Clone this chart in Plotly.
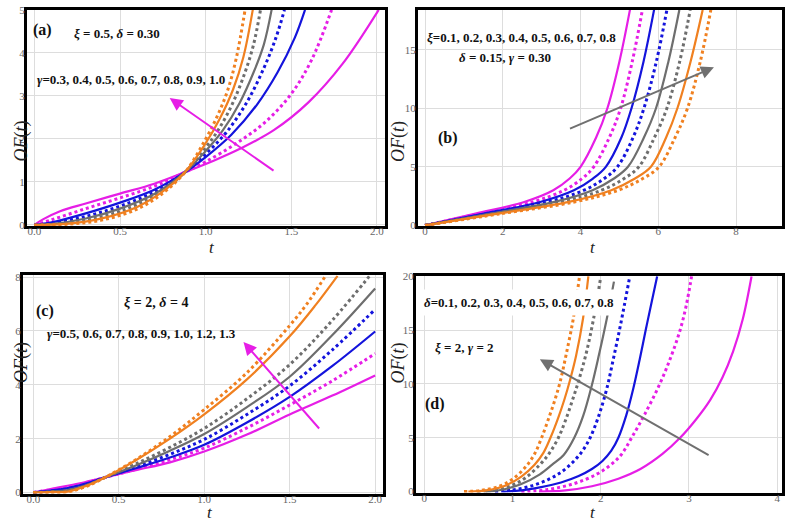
import plotly.graph_objects as go

W, H = 787, 525

# curve order in every panel: magenta, blue, grey, orange; solid then dotted
colors = ["#e61ee6", "#e61ee6", "#1414dc", "#1414dc",
          "#6e6e6e", "#6e6e6e", "#f08020", "#f08020"]
dashes = ["solid", "dot"] * 4

# ---- panel (a): xi=0.5, delta=0.30, gamma varies
a_t = [
    [0, 0.05, 0.15, 0.3, 0.5, 0.7, 0.88, 1.05, 1.2, 1.4, 1.6, 1.8, 2.01],
    [0, 0.1, 0.3, 0.5, 0.7, 0.88, 1.0, 1.18, 1.35, 1.5, 1.62, 1.735],
    [0, 0.1, 0.3, 0.5, 0.7, 0.88, 1.0, 1.15, 1.3, 1.42, 1.52, 1.58],
    [0, 0.1, 0.3, 0.5, 0.7, 0.88, 1.0, 1.12, 1.24, 1.34, 1.41, 1.46],
    [0, 0.1, 0.3, 0.5, 0.7, 0.88, 1.0, 1.1, 1.2, 1.28, 1.34, 1.385],
    [0, 0.1, 0.3, 0.5, 0.7, 0.88, 1.0, 1.08, 1.16, 1.23, 1.28, 1.32],
    [0, 0.2, 0.4, 0.6, 0.75, 0.88, 1.0, 1.08, 1.16, 1.22, 1.275],
    [0, 0.2, 0.4, 0.6, 0.75, 0.88, 1.0, 1.07, 1.13, 1.18, 1.23],
]
a_y = [
    [0, 0.13, 0.32, 0.5, 0.73, 0.96, 1.23, 1.5, 1.77, 2.21, 2.85, 3.75, 5.0],
    [0, 0.12, 0.38, 0.63, 0.9, 1.23, 1.47, 1.9, 2.4, 3.05, 3.85, 5.0],
    [0, 0.06, 0.27, 0.52, 0.82, 1.23, 1.58, 2.1, 2.8, 3.55, 4.35, 5.0],
    [0, 0.04, 0.2, 0.44, 0.77, 1.23, 1.65, 2.15, 2.85, 3.65, 4.35, 5.0],
    [0, 0.02, 0.15, 0.38, 0.72, 1.23, 1.72, 2.2, 2.85, 3.55, 4.2, 5.0],
    [0, 0.01, 0.11, 0.32, 0.68, 1.23, 1.8, 2.25, 2.85, 3.55, 4.2, 5.0],
    [0, 0.03, 0.16, 0.42, 0.78, 1.23, 1.9, 2.45, 3.15, 3.9, 5.0],
    [0, 0.02, 0.12, 0.37, 0.74, 1.23, 2.0, 2.55, 3.15, 3.9, 5.0],
]

# ---- panel (b): delta=0.15, gamma=0.30, xi varies (t read at fixed OF levels)
b_levels = [0, 1, 2, 3, 4, 5, 7.5, 10, 14, 18.4]
b_t = [
    [0, 1.3, 2.55, 3.3, 3.72, 4.0, 4.4, 4.69, 5.0, 5.27],
    [0, 1.41, 2.77, 3.58, 4.04, 4.34, 4.74, 5.03, 5.33, 5.59],
    [0, 1.51, 2.96, 3.83, 4.32, 4.65, 5.05, 5.31, 5.62, 5.89],
    [0, 1.61, 3.16, 4.09, 4.61, 4.95, 5.35, 5.63, 5.95, 6.22],
    [0, 1.7, 3.33, 4.31, 4.86, 5.22, 5.63, 5.94, 6.26, 6.54],
    [0, 1.79, 3.51, 4.54, 5.12, 5.5, 5.9, 6.22, 6.55, 6.82],
    [0, 1.88, 3.7, 4.79, 5.4, 5.81, 6.2, 6.49, 6.83, 7.14],
    [0, 1.96, 3.84, 4.97, 5.6, 6.02, 6.43, 6.75, 7.08, 7.35],
]

# ---- panel (c): xi=2, delta=4, gamma varies
c_t = [
    [0, 0.1, 0.2, 0.3, 0.42, 0.6, 0.8, 1.0, 1.25, 1.5, 1.75, 2.0],
    [0, 0.1, 0.2, 0.3, 0.42, 0.6, 0.8, 1.0, 1.25, 1.5, 1.75, 2.0],
    [0, 0.1, 0.2, 0.3, 0.42, 0.6, 0.8, 1.0, 1.25, 1.5, 1.75, 2.0],
    [0, 0.1, 0.2, 0.3, 0.42, 0.6, 0.8, 1.0, 1.25, 1.5, 1.75, 2.0],
    [0, 0.1, 0.2, 0.3, 0.42, 0.6, 0.8, 1.0, 1.25, 1.5, 1.75, 2.0],
    [0, 0.1, 0.2, 0.3, 0.42, 0.6, 0.8, 1.0, 1.25, 1.5, 1.75, 2.0],
    [0, 0.1, 0.2, 0.3, 0.42, 0.6, 0.8, 1.0, 1.25, 1.5, 1.65, 1.78],
    [0, 0.1, 0.2, 0.3, 0.42, 0.6, 0.8, 1.0, 1.25, 1.5, 1.6, 1.71],
]
c_y = [
    [0, 0.13, 0.25, 0.38, 0.56, 0.83, 1.12, 1.52, 2.15, 2.9, 3.6, 4.35],
    [0, 0.1, 0.2, 0.35, 0.56, 0.86, 1.22, 1.65, 2.4, 3.25, 4.15, 5.16],
    [0, 0.07, 0.16, 0.32, 0.56, 0.9, 1.3, 1.77, 2.6, 3.55, 4.7, 5.98],
    [0, 0.05, 0.12, 0.28, 0.56, 0.95, 1.42, 1.97, 2.9, 3.96, 5.3, 6.8],
    [0, 0.03, 0.09, 0.25, 0.56, 1.0, 1.55, 2.17, 3.17, 4.3, 5.85, 7.58],
    [0, 0.02, 0.07, 0.22, 0.56, 1.06, 1.68, 2.38, 3.48, 4.75, 6.4, 8.3],
    [0, 0.01, 0.03, 0.22, 0.56, 1.2, 2.0, 2.9, 4.2, 5.8, 6.95, 8.05],
    [0, 0.005, 0.02, 0.2, 0.56, 1.22, 2.08, 3.08, 4.45, 6.2, 7.0, 8.05],
]

# ---- panel (d): xi=2, gamma=2, delta varies
d_t = [
    [1.3, 1.6, 1.9, 2.2, 2.45, 2.7, 2.9, 3.08, 3.24, 3.38, 3.5, 3.61, 3.71],
    [1.1, 1.4, 1.7, 1.95, 2.1, 2.23, 2.35, 2.5, 2.67, 2.8, 2.9, 2.97, 3.03],
    [0.9, 1.1, 1.31, 1.55, 1.75, 1.9, 2.02, 2.12, 2.2, 2.29, 2.37, 2.44, 2.51, 2.58, 2.64],
    [0.8, 1.0, 1.2, 1.4, 1.55, 1.68, 1.79, 1.88, 1.98, 2.07, 2.14, 2.21, 2.27, 2.33],
    [0.7, 0.9, 1.1, 1.31, 1.45, 1.58, 1.7, 1.8, 1.9, 1.98, 2.07, 2.15],
    [0.6, 0.8, 1.0, 1.15, 1.31, 1.42, 1.52, 1.6, 1.68, 1.75, 1.84, 1.92, 2.0],
    [0.5, 0.7, 0.9, 1.1, 1.25, 1.35, 1.43, 1.52, 1.59, 1.65, 1.72, 1.80, 1.86],
    [0.45, 0.65, 0.85, 1.0, 1.15, 1.25, 1.33, 1.41, 1.48, 1.54, 1.61, 1.69, 1.76],
]
d_y = [
    [0, 0.12, 0.5, 1.2, 2.1, 3.5, 5.0, 6.7, 8.5, 10.6, 13.0, 16.0, 20],
    [0, 0.2, 0.75, 1.6, 2.4, 3.4, 5.0, 7.2, 10.0, 12.6, 15.0, 17.3, 20],
    [0, 0.12, 0.4, 0.85, 1.45, 2.1, 2.85, 3.8, 5.0, 7.1, 9.6, 12.2, 15.0, 17.7, 20],
    [0, 0.15, 0.5, 1.1, 1.8, 2.7, 3.75, 5.0, 7.1, 9.6, 12.2, 14.9, 17.4, 20],
    [0, 0.2, 0.7, 1.6, 2.5, 3.4, 5.0, 7.0, 9.9, 12.7, 16.1, 19.5],
    [0, 0.15, 0.6, 1.3, 2.5, 3.6, 5.0, 6.6, 8.5, 10.3, 13.0, 16.1, 19.9],
    [0, 0.12, 0.5, 1.4, 2.5, 3.6, 5.0, 6.9, 8.6, 10.3, 12.6, 16.1, 20],
    [0, 0.12, 0.5, 1.15, 2.3, 3.5, 5.0, 6.8, 8.5, 10.2, 12.8, 16.1, 20],
]

fig = go.Figure()

panels = [("x", "y", a_t, a_y),
          ("x2", "y2", b_t, [b_levels] * 8),
          ("x3", "y3", c_t, c_y),
          ("x4", "y4", d_t, d_y)]
for xa, ya, ts, ys in panels:
    for i in range(8):
        fig.add_trace(go.Scatter(
            x=ts[i], y=ys[i], mode="lines", xaxis=xa, yaxis=ya,
            line=dict(color=colors[i], dash=dashes[i],
                      width=3 if dashes[i] == "dot" else 2.2, shape="spline"),
            showlegend=False, hoverinfo="skip"))


def px(x):
    return x / W


def py(y):
    return 1 - y / H


# pixel boxes: left, right, top, bottom
boxes = {"": (27, 385, 4, 225), "2": (418, 782, 4, 225),
         "3": (23, 383, 275, 498), "4": (416, 782, 276, 497)}
xr = {"": [-0.043, 2.047], "2": [-0.18, 9.18], "3": [-0.06, 2.046], "4": [-0.094, 4.055]}
yr = {"": [-0.03, 5.0], "2": [-0.08, 18.4], "3": [-0.04, 8.07], "4": [-0.09, 20.0]}
xt = {"": [0, 0.5, 1.0, 1.5, 2.0], "2": [0, 2, 4, 6, 8],
      "3": [0, 0.5, 1.0, 1.5, 2.0], "4": [0, 1, 2, 3, 4]}
yt = {"": [0, 1, 2, 3, 4, 5], "2": [0, 5, 10, 15],
      "3": [0, 2, 4, 6, 8], "4": [0, 5, 10, 15, 20]}

tickfont = dict(family="Liberation Serif", size=11, color="#666666")
common = dict(showline=True, mirror=True, linewidth=3, linecolor="black",
              showgrid=True, gridcolor="#dddddd", gridwidth=1, zeroline=False,
              ticks="", tickfont=tickfont, fixedrange=True)
layout = {}
for k, (l, r, t, b) in boxes.items():
    fmt = ".1f" if k in ("", "3") else "d"
    layout["xaxis" + k] = dict(common, domain=[px(l), px(r)], range=xr[k],
                               tickvals=xt[k], tickformat=fmt,
                               anchor="y" + k, ticklabelstandoff=-7)
    layout["yaxis" + k] = dict(common, domain=[py(b), py(t)], range=yr[k],
                               tickvals=yt[k], anchor="x" + k,
                               ticklabelstandoff=-3)

fig.update_layout(**layout)

serif = "Liberation Serif"
ann = []


def label(x, y, text, size=13, **kw):
    ann.append(dict(x=px(x), y=py(y), xref="paper", yref="paper", text=text,
                    showarrow=False, xanchor="left", yanchor="middle",
                    font=dict(family=serif, size=size, color="#111111"), **kw))


# panel texts
label(31, 25, "<b>(a)</b>", 16)
label(72, 28, "<b><i>ξ</i> = 0.5, <i>δ</i> = 0.30</b>")
label(35, 75, "<b><i>γ</i>=0.3, 0.4, 0.5, 0.6, 0.7, 0.8, 0.9, 1.0</b>")
label(425, 32, "<b><i>ξ</i>=0.1, 0.2, 0.3, 0.4, 0.5, 0.6, 0.7, 0.8</b>")
label(457, 53, "<b><i>δ</i> = 0.15, <i>γ</i> = 0.30</b>")
label(436, 135, "<b>(b)</b>", 16)
label(34, 312, "<b>(c)</b>", 16)
label(122, 303, "<b><i>ξ</i> = 2, <i>δ</i> = 4</b>", 14)
label(45, 335, "<b><i>γ</i>=0.5, 0.6, 0.7, 0.8, 0.9, 1.0, 1.2, 1.3</b>")
label(418, 303, "<b><i>δ</i>=0.1, 0.2, 0.3, 0.4, 0.5, 0.6, 0.7, 0.8</b>",
      bgcolor="white", borderpad=5)
label(433, 349, "<b><i>ξ</i> = 2, <i>γ</i> = 2</b>")
label(423, 407, "<b>(d)</b>", 16)

# axis titles
for x, y in [(9, 115), (398, 115), (9, 387), (398, 387)]:
    ann.append(dict(x=px(x), y=py(y), xref="paper", yref="paper",
                    text="<i>OF</i>(<i>t</i>)", textangle=-90, showarrow=False,
                    font=dict(family=serif, size=18, color="#222222")))
for x, y, anc in [(207, 247, "middle"), (598, 247, "middle"),
                  (205, 529, "bottom"), (598, 529, "bottom")]:
    ann.append(dict(x=px(x), y=py(y), xref="paper", yref="paper",
                    text="<i>t</i>", showarrow=False, yanchor=anc,
                    font=dict(family=serif, size=17, color="#222222")))

# trend arrows (head, tail) in data units
arrows = [("x", "y", 0.79, 2.95, 1.405, 1.24, "#e61ee6"),
          ("x2", "y2", 7.43, 13.5, 3.69, 8.2, "#707070"),
          ("x3", "y3", 1.23, 5.59, 1.68, 2.32, "#e61ee6"),
          ("x4", "y4", 1.31, 12.3, 3.24, 3.3, "#707070")]
for xa, ya, hx, hy, tx, ty, c in arrows:
    ann.append(dict(x=hx, y=hy, ax=tx, ay=ty, xref=xa, yref=ya,
                    axref=xa, ayref=ya, showarrow=True, arrowhead=2,
                    arrowsize=1.3, arrowwidth=2, arrowcolor=c, text=""))

fig.update_layout(width=W, height=H, margin=dict(l=0, r=0, t=0, b=0),
                  paper_bgcolor="white", plot_bgcolor="white",
                  annotations=ann)

# page body has a default 8px margin; drop it so the figure fills the window
fig.write_html("out.html", config={"displayModeBar": False},
               post_script="document.body.style.margin='0px';")
